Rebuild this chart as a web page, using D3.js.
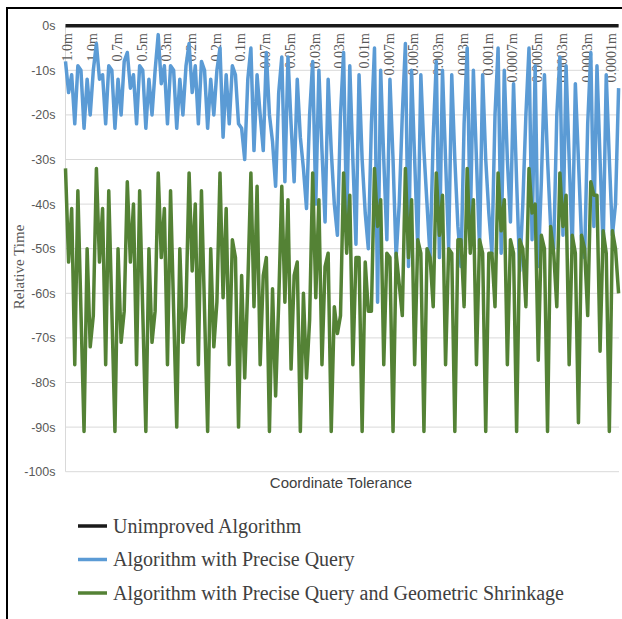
<!DOCTYPE html>
<html>
<head>
<meta charset="utf-8">
<script src="https://cdn.jsdelivr.net/npm/d3@7/dist/d3.min.js"></script>
<style>
  body { margin: 0; background: #fff; }
</style>
</head>
<body>
<svg id="chart" width="622" height="619"></svg>
<script>
// tick labels shown on the category axis (one every 8 runs)
var tickLabels = ["1.0m","1.0m","0.7m","0.5m","0.3m","0.2m","0.2m","0.1m","0.07m","0.05m","0.03m",
  "0.03m","0.01m","0.007m","0.005m","0.003m","0.003m","0.001m","0.0007m","0.0005m","0.0003m","0.0003m","0.0001m"];
var tickEvery = 8;

var seriesNames = ["Unimproved Algorithm", "Algorithm with Precise Query",
  "Algorithm with Precise Query and Geometric Shrinkage"];

// relative time in seconds
var precise = [
  -8,-15,-11,-22,-9,-10,-23,-12,-20,-10,
  -4,-12,-11,-22,-9,-10,-23,-12,-20,-8,
  -6,-14,-11,-22,-9,-10,-23,-12,-20,-10,
  -2,-13,-9,-22,-9,-10,-23,-12,-20,-9,
  -4,-15,-9,-22,-8,-10,-23,-12,-20,-10,
  -5,-25,-11,-22,-9,-11,-22,-23,-30,-12,
  -5,-28,-11,-20,-28,-6,-20,-26,-36,-15,
  -7,-35,-7,-22,-35,-12,-25,-32,-41,-20,
  -8,-40,-10,-28,-44,-12,-28,-40,-47,-20,
  -6,-45,-9,-30,-49,-11,-30,-42,-50,-22,
  -5,-62,-10,-30,-48,-12,-30,-52,-40,-20,
  -4,-54,-10,-30,-50,-11,-28,-40,-52,-25,
  -8,-52,-10,-30,-50,-11,-30,-45,-54,-22,
  -5,-45,-10,-30,-50,-11,-30,-42,-51,-20,
  -5,-51,-10,-30,-44,-13,-35,-55,-40,-20,
  -5,-48,-9,-54,-35,-11,-30,-45,-50,-20,
  -7,-47,-9,-30,-50,-13,-30,-48,-52,-22,
  -6,-45,-9,-30,-50,-11,-30,-47,-40,-14
];

var shrink = [
  -32,-53,-41,-76,-37,-64,-91,-50,-72,-65,
  -32,-53,-41,-76,-37,-64,-91,-50,-71,-64,
  -35,-53,-40,-76,-37,-64,-91,-50,-71,-64,
  -33,-52,-41,-76,-37,-64,-90,-50,-71,-63,
  -33,-55,-40,-76,-37,-64,-91,-50,-72,-62,
  -33,-61,-41,-76,-48,-52,-90,-56,-79,-58,
  -33,-63,-36,-76,-56,-52,-91,-59,-83,-62,
  -36,-62,-39,-77,-56,-53,-91,-60,-79,-66,
  -33,-61,-39,-76,-54,-51,-91,-63,-69,-65,
  -33,-51,-38,-76,-52,-52,-91,-53,-64,-64,
  -32,-45,-39,-76,-51,-52,-91,-51,-58,-65,
  -32,-52,-39,-76,-48,-51,-91,-50,-52,-63,
  -33,-47,-38,-76,-50,-51,-91,-48,-48,-63,
  -32,-51,-39,-76,-48,-51,-91,-51,-51,-63,
  -33,-46,-39,-76,-48,-51,-91,-48,-50,-63,
  -32,-42,-40,-75,-47,-50,-91,-45,-51,-63,
  -33,-45,-38,-76,-47,-51,-89,-47,-50,-65,
  -35,-38,-38,-73,-46,-51,-91,-46,-50,-60
];

// the unimproved algorithm is the baseline: 0s for every run
var unimproved = new Array(precise.length).fill(0);

var colors = ["#1a1a1a", "#5b9bd5", "#548235"];
var yTicks = [0,-10,-20,-30,-40,-50,-60,-70,-80,-90,-100];

var runs = d3.range(precise.length);

var svg = d3.select("#chart");
svg.append("rect").attr("width", 622).attr("height", 619).attr("fill", "#fff");

// outer frame
svg.append("path")
  .attr("d", "M7,619V8H622")
  .attr("fill", "none")
  .attr("stroke", "#000")
  .attr("stroke-width", 2);

var x = d3.scalePoint().domain(runs).range([65.5, 618.6]);
var y = d3.scaleLinear().domain([-100, 0]).range([471.7, 25.7]);

// gridlines
svg.append("g").selectAll("line")
  .data(yTicks)
  .enter().append("line")
    .attr("x1", 65.5).attr("x2", 619)
    .attr("y1", function(d) { return y(d); })
    .attr("y2", function(d) { return y(d); })
    .attr("stroke", "#d9d9d9")
    .attr("stroke-width", 1);

svg.append("line")
  .attr("x1", 65.5).attr("x2", 65.5)
  .attr("y1", y(0)).attr("y2", y(-100))
  .attr("stroke", "#d9d9d9");

// y axis labels
var yAxis = d3.axisLeft(y).tickValues(yTicks).tickSize(0).tickPadding(10)
  .tickFormat(function(d) { return d + "s"; });
var gy = svg.append("g").attr("transform", "translate(65.5,0)").call(yAxis);
gy.select(".domain").remove();
gy.selectAll("text")
  .attr("fill", "#595959")
  .style("font-family", "'Liberation Sans', Arial, sans-serif")
  .style("font-size", "12.5px");

// category labels, rotated, hanging below the zero line
svg.append("g").selectAll("text")
  .data(tickLabels)
  .enter().append("text")
    .attr("transform", function(d, i) {
      return "translate(" + (x(i * tickEvery) + 2) + ",33) rotate(-90)";
    })
    .attr("text-anchor", "end")
    .attr("dy", "0.35em")
    .attr("fill", "#595959")
    .style("font-family", "'Liberation Serif', 'Times New Roman', serif")
    .style("font-size", "14px")
    .text(function(d) { return d; });

// series
var line = d3.line()
  .x(function(d, i) { return x(i); })
  .y(function(d) { return y(d); });

[unimproved, precise, shrink].forEach(function(s, k) {
  svg.append("path")
    .datum(s)
    .attr("d", line)
    .attr("fill", "none")
    .attr("stroke", colors[k])
    .attr("stroke-width", 3.5)
    .attr("stroke-linejoin", "round")
    .attr("stroke-linecap", "butt");
});

// axis titles
svg.append("text")
  .attr("x", 341).attr("y", 488)
  .attr("text-anchor", "middle")
  .attr("fill", "#404040")
  .style("font-family", "'Liberation Sans', Arial, sans-serif")
  .style("font-size", "15px")
  .text("Coordinate Tolerance");

svg.append("text")
  .attr("transform", "translate(24,267) rotate(-90)")
  .attr("text-anchor", "middle")
  .attr("fill", "#595959")
  .style("font-family", "'Liberation Serif', 'Times New Roman', serif")
  .style("font-size", "15px")
  .text("Relative Time");

// legend
var legend = svg.append("g").selectAll("g")
  .data(seriesNames)
  .enter().append("g")
    .attr("transform", function(d, i) { return "translate(78," + (526 + i * 33.5) + ")"; });

legend.append("line")
  .attr("x1", 0).attr("x2", 29)
  .attr("stroke", function(d, i) { return colors[i]; })
  .attr("stroke-width", 3.5);

legend.append("text")
  .attr("x", 35).attr("y", 6.5)
  .attr("fill", "#404040")
  .style("font-family", "'Liberation Serif', 'Times New Roman', serif")
  .style("font-size", "20px")
  .text(function(d) { return d; });
</script>
</body>
</html>
